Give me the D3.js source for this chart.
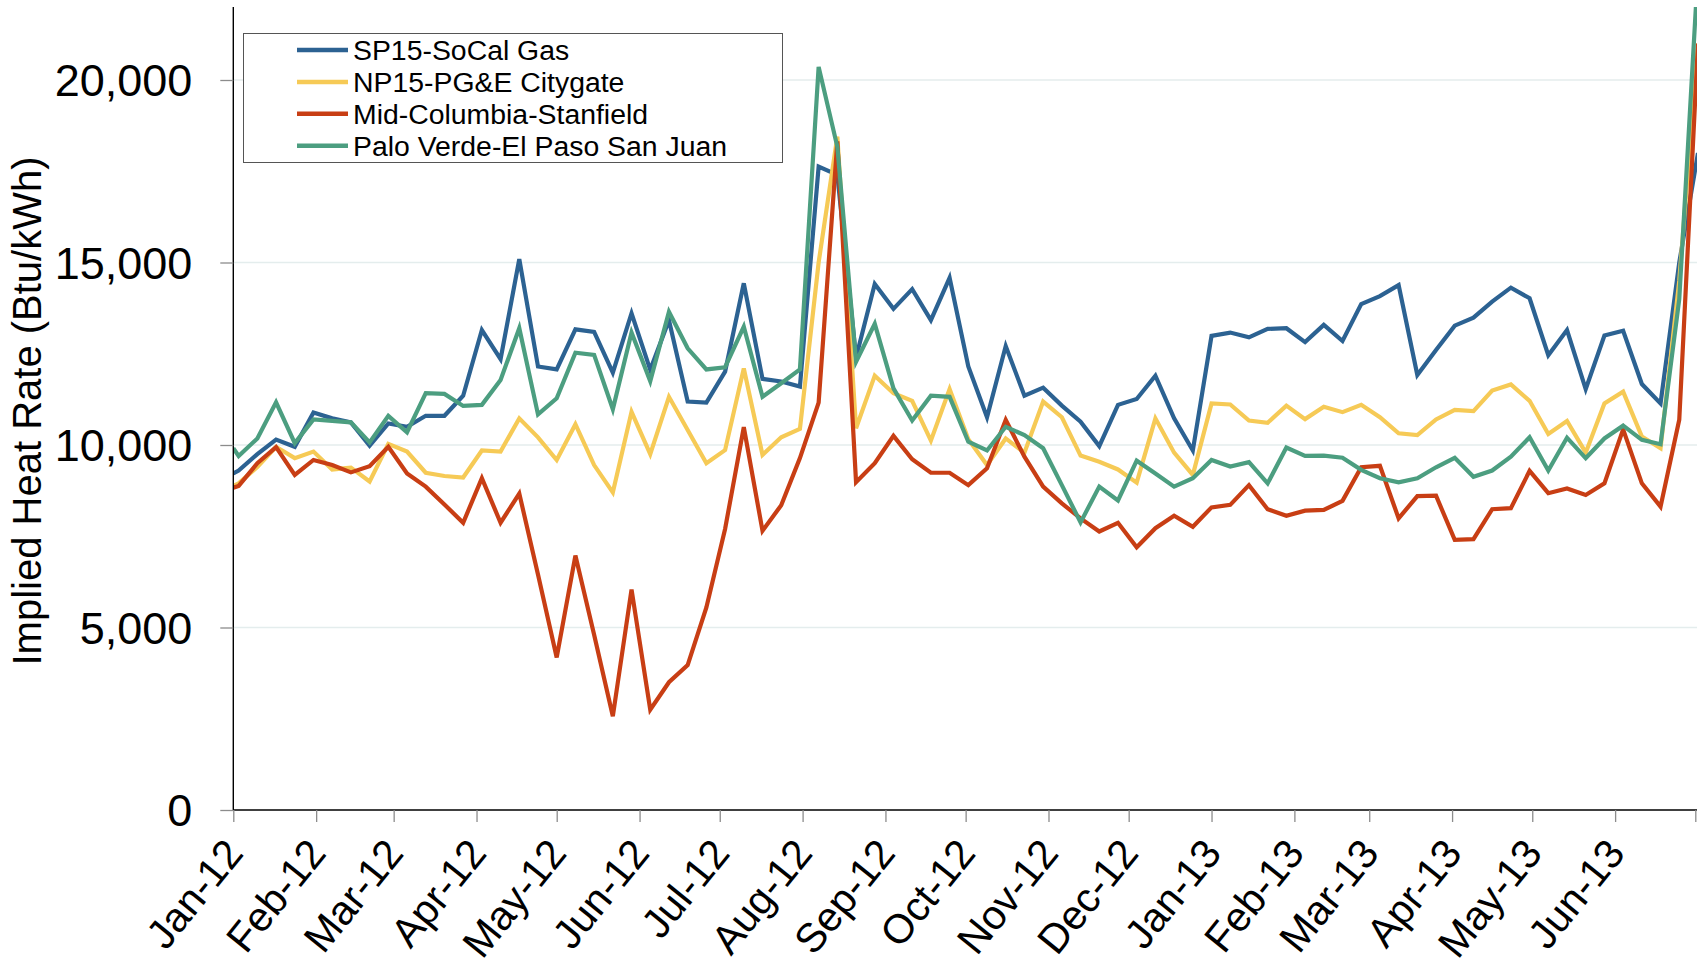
<!DOCTYPE html>
<html><head><meta charset="utf-8">
<script src="https://cdn.jsdelivr.net/npm/d3@7"></script>
<style>
html,body{margin:0;padding:0;background:#fff;overflow:hidden;}
svg{display:block;font-family:"Liberation Sans",Arial,Helvetica,sans-serif;}
</style></head><body>
<svg id="chart" width="1697" height="969"></svg>
<script>
const dates = ["2012-01-01","2012-01-03","2012-01-10","2012-01-17","2012-01-24","2012-01-31","2012-02-07","2012-02-14","2012-02-21","2012-02-28",
"2012-03-06","2012-03-13","2012-03-20","2012-03-27","2012-04-03","2012-04-10","2012-04-17","2012-04-24","2012-05-01","2012-05-08",
"2012-05-15","2012-05-22","2012-05-29","2012-06-05","2012-06-12","2012-06-19","2012-06-26","2012-07-03","2012-07-10","2012-07-17",
"2012-07-24","2012-07-31","2012-08-07","2012-08-14","2012-08-21","2012-08-28","2012-09-04","2012-09-11","2012-09-18","2012-09-25",
"2012-10-02","2012-10-09","2012-10-16","2012-10-23","2012-10-30","2012-11-06","2012-11-13","2012-11-20","2012-11-27","2012-12-04",
"2012-12-11","2012-12-18","2012-12-25","2013-01-01","2013-01-08","2013-01-15","2013-01-22","2013-01-29","2013-02-05","2013-02-12",
"2013-02-19","2013-02-26","2013-03-05","2013-03-12","2013-03-19","2013-03-26","2013-04-02","2013-04-09","2013-04-16","2013-04-23",
"2013-04-30","2013-05-07","2013-05-14","2013-05-21","2013-05-28","2013-06-04","2013-06-11","2013-06-18","2013-06-25","2013-07-02"];

const sp15 = [9220,9300,9750,10150,9950,10890,10730,10620,9980,10590,
10500,10800,10800,11350,13150,12350,15090,12150,12070,13170,
13100,11980,13610,12060,13420,11190,11160,12010,14430,11810,
11740,11600,17630,17400,12400,14410,13730,14270,13420,14580,
12150,10760,12710,11350,11570,11080,10640,9970,11100,11260,
11900,10730,9850,12990,13080,12950,13180,13200,12820,13290,
12850,13860,14080,14380,11920,12600,13270,13490,13930,14310,
14020,12460,13150,11530,13000,13130,11670,11140,15000,18000];

const np15 = [8880,8950,9400,9950,9640,9820,9330,9380,9000,10030,
9820,9240,9150,9110,9850,9820,10730,10210,9590,10570,
9450,8700,10910,9750,11320,10410,9500,9860,12100,9730,
10210,10440,15000,18450,10460,11900,11420,11210,10120,11530,
10160,9450,10180,9790,11190,10760,9710,9540,9330,8970,
10730,9790,9180,11140,11110,10670,10610,11080,10710,11050,
10900,11100,10760,10320,10270,10700,10960,10930,11490,11660,
11210,10300,10660,9790,11140,11460,10230,9910,14500,21000];

const midColumbia = [8830,8880,9500,9940,9180,9590,9450,9250,9420,9950,
9220,8860,8370,7870,9090,7870,8670,6450,4180,6970,
4800,2570,6040,2750,3500,3970,5550,7700,10490,7650,
8350,9640,11160,18320,8980,9500,10250,9610,9240,9240,
8900,9360,10690,9680,8860,8400,7990,7630,7870,7200,
7720,8060,7760,8290,8360,8900,8240,8060,8200,8220,
8470,9390,9430,7990,8600,8610,7400,7420,8240,8270,
9290,8680,8810,8630,8950,10430,8950,8310,10690,21000];

const paloVerde = [9910,9700,10180,11170,10050,10700,10660,10620,10070,10800,
10350,11420,11400,11070,11100,11780,13200,10840,11280,12530,
12470,10980,13080,11750,13650,12650,12070,12130,13240,11320,
11690,12070,20360,18170,12280,13320,11550,10670,11350,11320,
10090,9850,10500,10270,9910,8900,7880,8860,8480,9570,
9220,8860,9090,9590,9410,9530,8950,9930,9700,9710,
9650,9320,9090,8980,9090,9390,9650,9130,9300,9680,
10210,9300,10200,9640,10180,10530,10140,10020,14000,23000];

const seriesNames = ["SP15-SoCal Gas","NP15-PG&E Citygate","Mid-Columbia-Stanfield","Palo Verde-El Paso San Juan"];
const seriesColors = ["#2c6292","#f6ca56","#c83e14","#4c9e80"];
const yTicks = [0,5000,10000,15000,20000];
const yTitle = "Implied Heat Rate (Btu/kWh)";
const xStart = "2012-01-01", xEnd = "2013-07-01";

const parse = d3.timeParse("%Y-%m-%d");
const W = 1697, H = 969;
const plot = {left:233.3, right:1695.3, top:7, bottom:810};
const svg = d3.select("#chart");

const x = d3.scaleTime().domain([parse(xStart), parse(xEnd)]).range([plot.left, plot.right]);
const y = d3.scaleLinear().domain([0, 22000]).range([plot.bottom, plot.top]);

svg.append("rect").attr("width", W).attr("height", H).attr("fill", "#fff");

// gridlines
svg.append("g").selectAll("line").data(yTicks.filter(d => d > 0)).join("line")
  .attr("x1", plot.left).attr("x2", W)
  .attr("y1", d => y(d)).attr("y2", d => y(d))
  .attr("stroke", "#e4eded").attr("stroke-width", 1.6);

svg.append("defs").append("clipPath").attr("id", "plotClip").append("rect")
  .attr("x", plot.left).attr("y", plot.top)
  .attr("width", W - plot.left).attr("height", plot.bottom - plot.top);

const dateObjs = dates.map(parse);
const seriesData = [sp15, np15, midColumbia, paloVerde];
const line = d3.line().x((d, i) => x(dateObjs[i])).y(d => y(d));

svg.append("g").attr("clip-path", "url(#plotClip)")
  .selectAll("path").data(seriesData).join("path")
  .attr("d", d => line(d))
  .attr("fill", "none")
  .attr("stroke", (d, i) => seriesColors[i])
  .attr("stroke-width", 4.2);

// x axis
const monthTicks = d3.timeMonth.range(parse(xStart), d3.timeDay.offset(parse(xEnd), 1));
const fmt = d3.timeFormat("%b-%y");
const xAxis = d3.axisBottom(x).tickValues(monthTicks).tickSize(12).tickSizeOuter(0)
  .tickFormat(d => (+d === +parse(xEnd)) ? "" : fmt(d));
const gx = svg.append("g").attr("transform", `translate(0,${plot.bottom})`).call(xAxis)
  .attr("font-family", null).attr("font-size", null);
gx.select(".domain").attr("stroke", "#000").attr("stroke-width", 1.4).attr("d", `M${plot.left},0H${W}`);
gx.selectAll(".tick line").attr("stroke", "#8c8c8c").attr("stroke-width", 1.3);
gx.selectAll(".tick text")
  .attr("y", null).attr("dy", null).attr("x", null)
  .attr("font-size", 41).attr("fill", "#000")
  .attr("text-anchor", "end")
  .attr("transform", "translate(11,44) rotate(-51)");

// y axis
const yAxis = d3.axisLeft(y).tickValues(yTicks).tickSize(13).tickSizeOuter(0).tickFormat(d3.format(","));
const gy = svg.append("g").attr("transform", `translate(${plot.left},0)`).call(yAxis)
  .attr("font-family", null).attr("font-size", null);
gy.select(".domain").attr("stroke", "#000").attr("stroke-width", 1.4).attr("d", `M0,${plot.top}V${plot.bottom}`);
gy.selectAll(".tick line").attr("stroke", "#8c8c8c").attr("stroke-width", 1.3);
gy.selectAll(".tick text").attr("x", -41).attr("dy", "0.35em")
  .attr("font-size", 45).attr("fill", "#000");

// y title
svg.append("text").attr("transform", "translate(41,411) rotate(-90)")
  .attr("text-anchor", "middle").attr("font-size", 40).attr("fill", "#000")
  .text(yTitle);

// legend
const lg = svg.append("g");
lg.append("rect").attr("x", 243.5).attr("y", 33.5).attr("width", 539).attr("height", 129)
  .attr("fill", "#fff").attr("stroke", "#555").attr("stroke-width", 1);
const rows = lg.selectAll("g.row").data(seriesNames).join("g").attr("class", "row")
  .attr("transform", (d, i) => `translate(0,${50 + 31.9 * i})`);
rows.append("line").attr("x1", 297).attr("x2", 348).attr("y1", 0).attr("y2", 0)
  .attr("stroke", (d, i) => seriesColors[i]).attr("stroke-width", 4.5);
rows.append("text").attr("x", 353).attr("dy", "0.35em").attr("font-size", 28.4).attr("fill", "#000")
  .text(d => d);
</script>
</body></html>
